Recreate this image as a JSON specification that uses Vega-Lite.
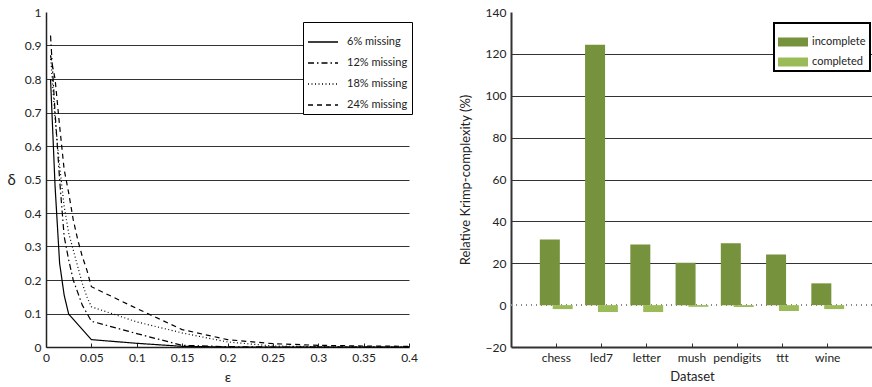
{
  "$schema": "https://vega.github.io/schema/vega-lite/v6.json",
  "padding": {"left": 6, "top": 6, "right": 0, "bottom": 0},
  "spacing": 102,
  "bounds": "flush",
  "config": {
    "view": {"stroke": null},
    "font": "Lato",
    "axis": {
      "labelFont": "Lato",
      "titleFont": "Lato",
      "labelFontSize": 12,
      "titleFontSize": 13,
      "labelColor": "#222",
      "titleColor": "#222",
      "titleFontWeight": "normal",
      "domainColor": "#222",
      "domainWidth": 1.5,
      "gridColor": "#333",
      "gridWidth": 1
    },
    "legend": {
      "labelFont": "Lato",
      "labelFontSize": 11,
      "labelColor": "#222",
      "strokeColor": "#000",
      "fillColor": "#fff"
    }
  },
  "datasets": {
    "curves": [
      {"series": "6% missing", "eps": 0.005, "delta": 0.80},
      {"series": "6% missing", "eps": 0.01, "delta": 0.48},
      {"series": "6% missing", "eps": 0.015, "delta": 0.25},
      {"series": "6% missing", "eps": 0.02, "delta": 0.155},
      {"series": "6% missing", "eps": 0.025, "delta": 0.098},
      {"series": "6% missing", "eps": 0.05, "delta": 0.022},
      {"series": "6% missing", "eps": 0.1, "delta": 0.011},
      {"series": "6% missing", "eps": 0.15, "delta": 0.002},
      {"series": "6% missing", "eps": 0.2, "delta": 0},
      {"series": "6% missing", "eps": 0.25, "delta": 0},
      {"series": "6% missing", "eps": 0.3, "delta": 0},
      {"series": "6% missing", "eps": 0.35, "delta": 0},
      {"series": "6% missing", "eps": 0.4, "delta": 0},
      {"series": "12% missing", "eps": 0.005, "delta": 0.93},
      {"series": "12% missing", "eps": 0.01, "delta": 0.70},
      {"series": "12% missing", "eps": 0.015, "delta": 0.50},
      {"series": "12% missing", "eps": 0.02, "delta": 0.33},
      {"series": "12% missing", "eps": 0.025, "delta": 0.26},
      {"series": "12% missing", "eps": 0.03, "delta": 0.20},
      {"series": "12% missing", "eps": 0.04, "delta": 0.125},
      {"series": "12% missing", "eps": 0.05, "delta": 0.077},
      {"series": "12% missing", "eps": 0.1, "delta": 0.04},
      {"series": "12% missing", "eps": 0.15, "delta": 0.005},
      {"series": "12% missing", "eps": 0.2, "delta": 0.001},
      {"series": "12% missing", "eps": 0.25, "delta": 0},
      {"series": "12% missing", "eps": 0.3, "delta": 0},
      {"series": "12% missing", "eps": 0.35, "delta": 0},
      {"series": "12% missing", "eps": 0.4, "delta": 0},
      {"series": "18% missing", "eps": 0.005, "delta": 0.87},
      {"series": "18% missing", "eps": 0.01, "delta": 0.68},
      {"series": "18% missing", "eps": 0.015, "delta": 0.54},
      {"series": "18% missing", "eps": 0.02, "delta": 0.42},
      {"series": "18% missing", "eps": 0.025, "delta": 0.34},
      {"series": "18% missing", "eps": 0.03, "delta": 0.29},
      {"series": "18% missing", "eps": 0.035, "delta": 0.24},
      {"series": "18% missing", "eps": 0.04, "delta": 0.19},
      {"series": "18% missing", "eps": 0.045, "delta": 0.15},
      {"series": "18% missing", "eps": 0.05, "delta": 0.12},
      {"series": "18% missing", "eps": 0.1, "delta": 0.075},
      {"series": "18% missing", "eps": 0.15, "delta": 0.042},
      {"series": "18% missing", "eps": 0.2, "delta": 0.015},
      {"series": "18% missing", "eps": 0.25, "delta": 0.003},
      {"series": "18% missing", "eps": 0.3, "delta": 0.001},
      {"series": "18% missing", "eps": 0.35, "delta": 0},
      {"series": "18% missing", "eps": 0.4, "delta": 0},
      {"series": "24% missing", "eps": 0.005, "delta": 0.87},
      {"series": "24% missing", "eps": 0.01, "delta": 0.80},
      {"series": "24% missing", "eps": 0.015, "delta": 0.66},
      {"series": "24% missing", "eps": 0.02, "delta": 0.53},
      {"series": "24% missing", "eps": 0.025, "delta": 0.46},
      {"series": "24% missing", "eps": 0.03, "delta": 0.38},
      {"series": "24% missing", "eps": 0.035, "delta": 0.32},
      {"series": "24% missing", "eps": 0.04, "delta": 0.27},
      {"series": "24% missing", "eps": 0.045, "delta": 0.23},
      {"series": "24% missing", "eps": 0.05, "delta": 0.18},
      {"series": "24% missing", "eps": 0.1, "delta": 0.115},
      {"series": "24% missing", "eps": 0.15, "delta": 0.052},
      {"series": "24% missing", "eps": 0.2, "delta": 0.022},
      {"series": "24% missing", "eps": 0.25, "delta": 0.01},
      {"series": "24% missing", "eps": 0.3, "delta": 0.005},
      {"series": "24% missing", "eps": 0.35, "delta": 0.003},
      {"series": "24% missing", "eps": 0.4, "delta": 0.002}
    ],
    "krimp": [
      {"dataset": "chess", "kind": "incomplete", "value": 31.4},
      {"dataset": "chess", "kind": "completed", "value": -1.9},
      {"dataset": "led7", "kind": "incomplete", "value": 124.4},
      {"dataset": "led7", "kind": "completed", "value": -3.3},
      {"dataset": "letter", "kind": "incomplete", "value": 29},
      {"dataset": "letter", "kind": "completed", "value": -3.3},
      {"dataset": "mush", "kind": "incomplete", "value": 20.2},
      {"dataset": "mush", "kind": "completed", "value": -0.8},
      {"dataset": "pendigits", "kind": "incomplete", "value": 29.5},
      {"dataset": "pendigits", "kind": "completed", "value": -0.9},
      {"dataset": "ttt", "kind": "incomplete", "value": 24.2},
      {"dataset": "ttt", "kind": "completed", "value": -2.8},
      {"dataset": "wine", "kind": "incomplete", "value": 10.4},
      {"dataset": "wine", "kind": "completed", "value": -1.9}
    ]
  },
  "hconcat": [
    {
      "width": 363,
      "height": 335,
      "data": {"name": "curves"},
      "mark": {"type": "line", "color": "#000", "strokeWidth": 1.2},
      "encoding": {
        "x": {
          "field": "eps",
          "type": "quantitative",
          "title": "ε",
          "scale": {"domain": [0, 0.4], "nice": false},
          "axis": {
            "values": [0, 0.05, 0.1, 0.15, 0.2, 0.25, 0.3, 0.35, 0.4],
            "format": "~g",
            "grid": false,
            "tickSize": -4,
            "tickColor": "#222",
            "labelPadding": 9,
            "titlePadding": 7,
            "titleFontSize": 14,
            "labelFlush": false
          }
        },
        "y": {
          "field": "delta",
          "type": "quantitative",
          "title": "δ",
          "scale": {"domain": [0, 1], "nice": false},
          "axis": {
            "values": [0, 0.1, 0.2, 0.3, 0.4, 0.5, 0.6, 0.7, 0.8, 0.9, 1],
            "format": "~g",
            "ticks": false,
            "labelPadding": 5,
            "titleAngle": 0,
            "titleX": -35,
            "titleY": 167,
            "titleAlign": "center",
            "titleBaseline": "middle",
            "titleFontSize": 15,
            "gridOpacity": {"condition": {"test": "datum.value == 0 || datum.value == 1", "value": 0}, "value": 1}
          }
        },
        "strokeDash": {
          "field": "series",
          "type": "nominal",
          "title": null,
          "scale": {
            "domain": ["6% missing", "12% missing", "18% missing", "24% missing"],
            "range": [[1, 0], [6, 3, 1.5, 3], [1, 2.5], [5, 4]]
          },
          "legend": {
            "orient": "none",
            "legendX": 257,
            "legendY": 10,
            "symbolType": "stroke",
            "symbolSize": 900,
            "symbolStrokeWidth": 1.3,
            "symbolStrokeColor": "#000",
            "labelFontSize": 11,
            "labelOffset": 8,
            "rowPadding": -17,
            "padding": 4,
            "encode": {"legend": {"update": {"strokeWidth": {"value": 1}}}}
          }
        }
      }
    },
    {
      "width": 362,
      "height": 335,
      "data": {"name": "krimp"},
      "encoding": {
        "x": {
          "field": "dataset",
          "type": "nominal",
          "title": "Dataset",
          "sort": ["chess", "led7", "letter", "mush", "pendigits", "ttt", "wine"],
          "scale": {"paddingInner": 0, "paddingOuter": 0.5},
          "axis": {
            "labelAngle": 0,
            "tickSize": -4,
            "tickColor": "#333",
            "labelPadding": 9,
            "titlePadding": 7,
            "labelFontSize": 12,
            "domainColor": "#333",
            "domainWidth": 2
          }
        },
        "y": {
          "field": "value",
          "type": "quantitative",
          "title": "Relative Krimp-complexity (%)",
          "scale": {"domain": [-20, 140], "nice": false},
          "axis": {
            "values": [-20, 0, 20, 40, 60, 80, 100, 120, 140],
            "ticks": false,
            "labelPadding": 5,
            "titlePadding": 13,
            "titleFontSize": 13,
            "domainColor": "#333",
            "domainWidth": 2,
            "gridOpacity": {"condition": {"test": "datum.value == -20 || datum.value == 0 || datum.value == 140", "value": 0}, "value": 1}
          }
        }
      },
      "layer": [
        {
          "mark": {"type": "rule", "color": "#888", "strokeWidth": 1.5, "strokeDash": [1, 4]},
          "encoding": {"x": {"value": 0}, "x2": {"value": 362}, "y": {"datum": 0, "type": "quantitative"}}
        },
        {
          "mark": {"type": "bar", "width": 20},
          "encoding": {
            "xOffset": {
              "field": "kind",
              "type": "nominal",
              "scale": {"domain": ["incomplete", "completed"], "paddingInner": 0, "paddingOuter": 0.76}
            },
            "color": {
              "field": "kind",
              "type": "nominal",
              "title": null,
              "scale": {"domain": ["incomplete", "completed"], "range": ["#76923C", "#9BBB59"]},
              "legend": {
                "orient": "none",
                "legendX": 728,
                "legendY": 11,
                "symbolType": "M-1,-0.3H1V0.3H-1Z",
                "symbolSize": 900,
                "symbolStrokeWidth": 0,
                "symbolOpacity": 1,
                "labelFontSize": 11,
                "labelOffset": 4,
                "rowPadding": -17,
                "padding": 4,
                "encode": {"legend": {"update": {"strokeWidth": {"value": 2}}}}
              }
            }
          }
        }
      ]
    }
  ]
}
